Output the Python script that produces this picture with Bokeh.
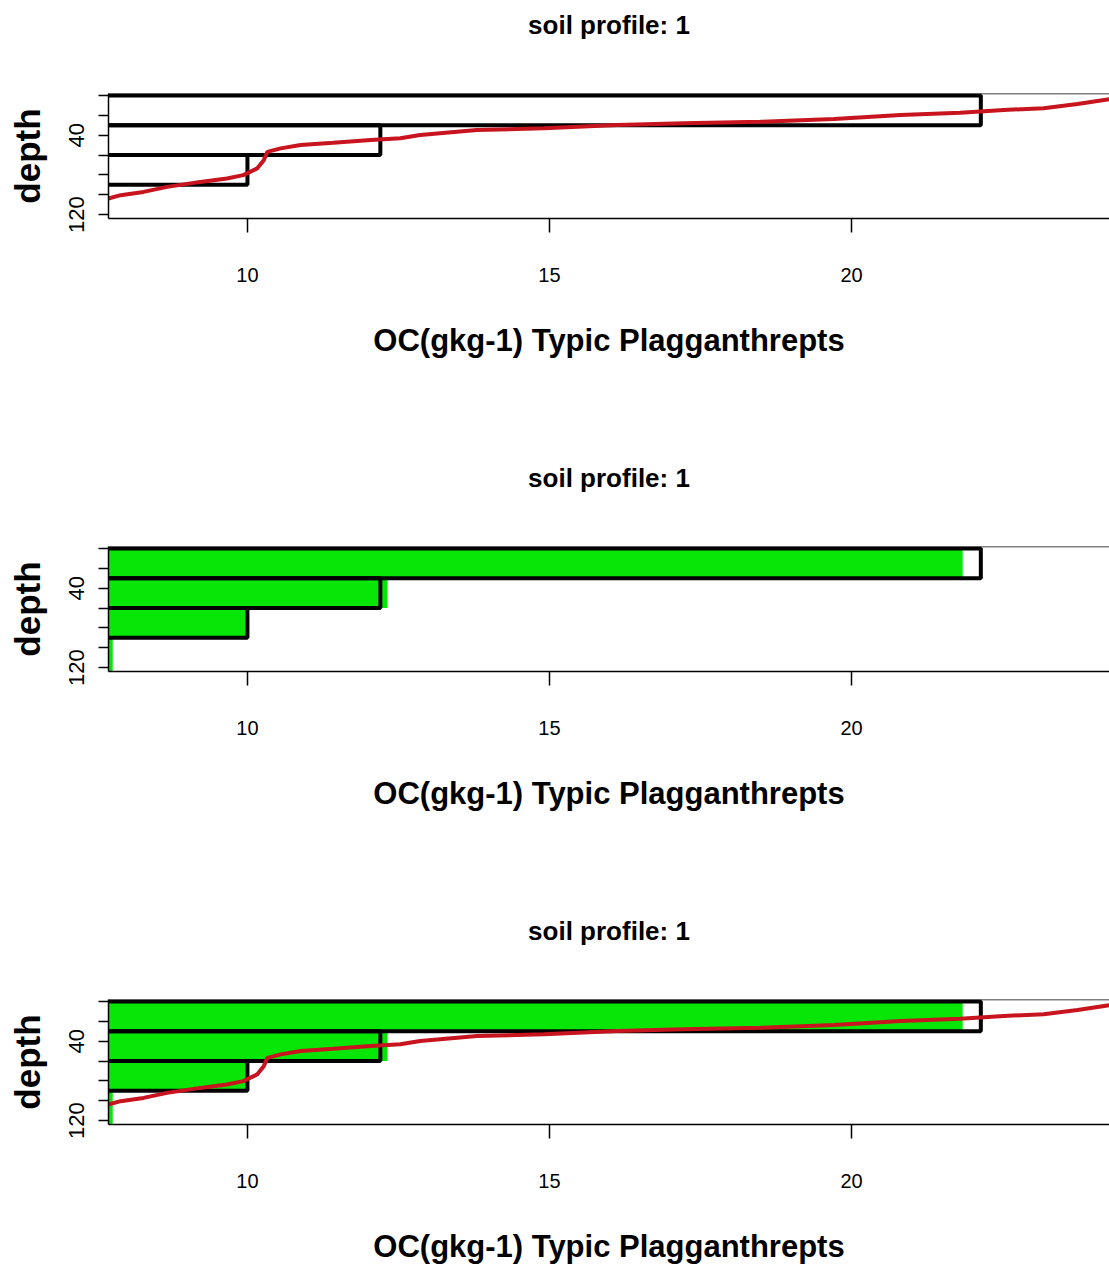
from bokeh.plotting import figure
from bokeh.layouts import column
from bokeh.models import Range1d, FixedTicker, Span, Title
from bokeh.embed import file_html
from bokeh.resources import INLINE

# ---- data ----
horizon_top = [0, 30, 60, 90]
horizon_bottom = [30, 60, 90, 124]
bar_base = [0, 0, 0, 0]
observed_oc = [22.14, 12.2, 10.0, 7.6]
predicted_oc = [21.84, 12.32, 10.0, 7.77]

spline_oc = [7.70, 7.90, 8.28, 8.67, 9.22, 9.66, 9.93, 10.16, 10.27, 10.33, 10.55,
             10.88, 11.42, 12.04, 12.53, 12.86, 13.80, 14.91, 16.12, 17.22, 18.49,
             19.71, 20.81, 21.80, 22.52, 23.18, 23.74, 24.18, 24.5]
spline_depth = [103.8, 100.5, 97.2, 92.1, 87.1, 83.6, 80.3, 73.5, 65.2, 56.8, 53.3,
                50.0, 47.7, 44.9, 43.2, 39.9, 34.8, 33.1, 29.8, 28.1, 26.5,
                23.7, 19.7, 17.4, 14.6, 12.9, 8.6, 4.5, 2.0]

x_ticks = [10, 15, 20]
y_ticks = [0, 20, 40, 60, 80, 100, 120]
y_tick_labels = ["", "", "40", "", "", "", "120"]

title_text = "soil profile: 1"
x_label = "OC(gkg-1) Typic Plagganthrepts"
y_label = "depth"

FONT = "Liberation Sans"


def make_panel(show_green, show_curve, height, bottom_border):
    p = figure(width=1109, height=height, output_backend="svg", toolbar_location=None,
               x_range=Range1d(7.7, 24.27), y_range=Range1d(124, -2),
               min_border_left=108, min_border_right=0, min_border_top=93,
               min_border_bottom=bottom_border, outline_line_color=None,
               background_fill_color="white", border_fill_color="white")
    p.grid.visible = False

    p.title.text = title_text
    p.title.align = "center"
    p.title.text_font = FONT
    p.title.text_font_size = "26px"
    p.title.text_font_style = "bold"
    p.title.text_color = "black"
    p.title.standoff = 0
    # blank gap between the title and the plot frame
    p.add_layout(Title(text=" ", text_font_size="10px", standoff=41), "above")

    if show_green:
        p.quad(left=bar_base, right=predicted_oc, top=horizon_top, bottom=horizon_bottom,
               fill_color="#08e608", line_color=None)
    p.quad(left=bar_base, right=observed_oc, top=horizon_top, bottom=horizon_bottom,
           fill_color=None, line_color="black", line_width=4)
    if show_curve:
        p.line(spline_oc, spline_depth, line_color="#c8141e", line_width=4)

    p.add_layout(Span(location=-2, dimension="width", line_color="black", line_width=1.5))

    xa = p.xaxis[0]
    xa.ticker = FixedTicker(ticks=x_ticks)
    xa.minor_tick_line_color = None
    xa.major_tick_out = 14
    xa.major_tick_in = 0
    xa.axis_line_width = 1.5
    xa.major_tick_line_width = 1.5
    xa.major_label_standoff = 35
    xa.major_label_text_font = FONT
    xa.major_label_text_font_size = "20px"
    xa.major_label_text_color = "black"
    xa.axis_label = x_label
    xa.axis_label_text_font = FONT
    xa.axis_label_text_font_size = "31px"
    xa.axis_label_text_font_style = "bold"
    xa.axis_label_text_color = "black"
    xa.axis_label_standoff = 38

    ya = p.yaxis[0]
    ya.ticker = FixedTicker(ticks=y_ticks)
    ya.major_label_overrides = {t: s for t, s in zip(y_ticks, y_tick_labels)}
    ya.minor_tick_line_color = None
    ya.major_tick_out = 10
    ya.major_tick_in = 0
    ya.axis_line_width = 1.5
    ya.major_tick_line_width = 1.5
    ya.major_label_orientation = "vertical"
    ya.major_label_standoff = 14
    ya.major_label_text_font = FONT
    ya.major_label_text_font_size = "22px"
    ya.major_label_text_color = "black"
    ya.axis_label = y_label
    ya.axis_label_text_font = FONT
    ya.axis_label_text_font_size = "35px"
    ya.axis_label_text_font_style = "bold"
    ya.axis_label_text_color = "black"
    ya.axis_label_standoff = 20
    return p


p1 = make_panel(False, True, 453, 235)
p2 = make_panel(True, False, 453, 235)
p3 = make_panel(True, True, 368, 150)

layout = column(p1, p2, p3, spacing=0)
open("out.html", "w").write(file_html(layout, INLINE))
